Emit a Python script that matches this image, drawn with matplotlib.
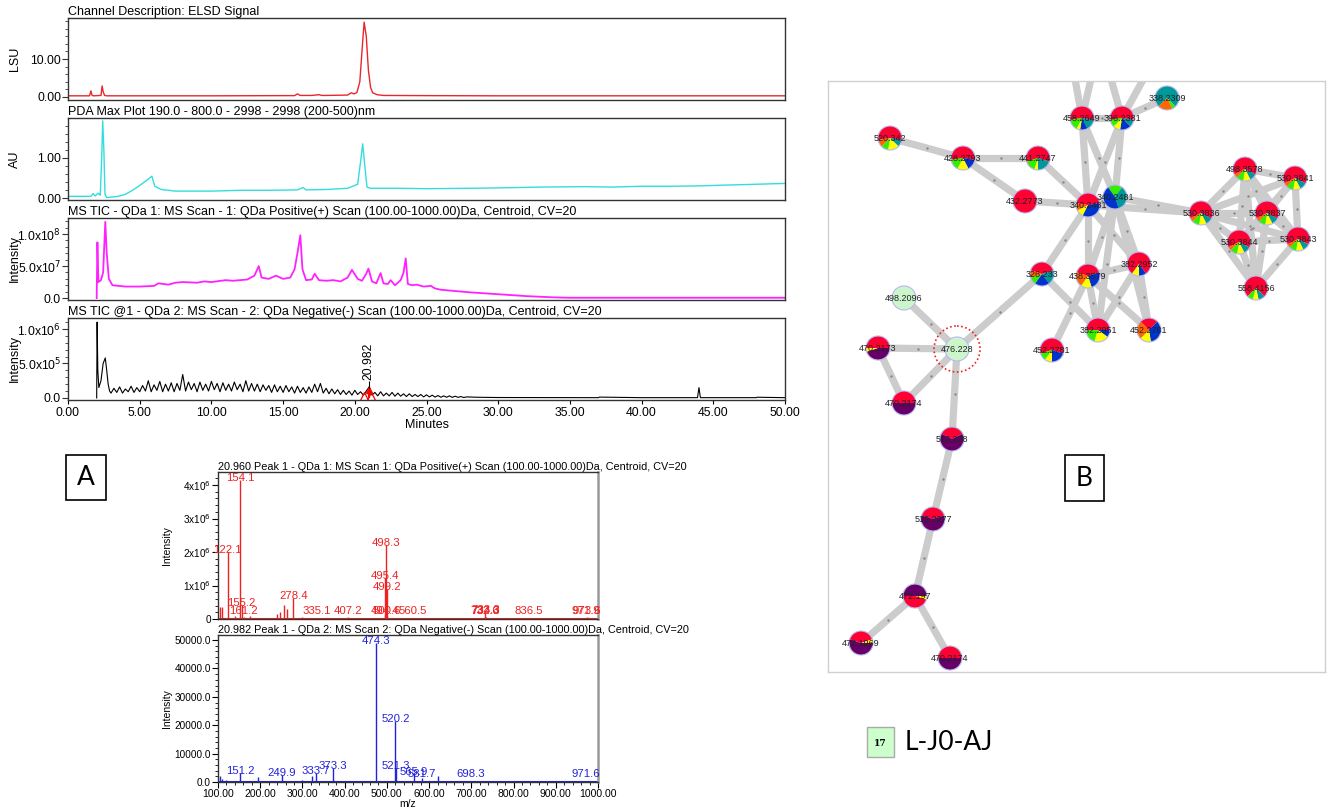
import numpy as np
import matplotlib.pyplot as plt
from matplotlib.patches import Wedge, Circle, Rectangle
from matplotlib.ticker import MultipleLocator

plt.rcParams['font.family'] = ['Liberation Sans', 'DejaVu Sans']

W, H = 1331, 807

# ---------------- chromatogram traces (time in minutes) ----------------
elsd_time = [0, 1.5, 1.6, 1.68, 1.8, 2.3, 2.38, 2.45, 2.55, 2.7, 5, 10, 15, 15.8, 16.0,
             16.2, 17, 17.5, 17.7, 18, 19.5, 19.75, 19.95, 20.15, 20.35, 20.5, 20.65, 20.8,
             20.95, 21.1, 21.25, 21.55, 22, 25, 30, 35, 40, 45, 50]
elsd_lsu = [0.3, 0.3, 1.6, 0.4, 0.3, 0.4, 2.9, 1.4, 0.4, 0.3, 0.3, 0.3, 0.35, 0.35, 0.8,
            0.4, 0.4, 0.6, 0.4, 0.4, 0.5, 1.1, 0.8, 1.2, 4.0, 12.0, 19.7, 16.0,
            7.0, 2.5, 1.1, 0.6, 0.4, 0.35, 0.3, 0.3, 0.3, 0.3, 0.3]

pda_time = [0, 1.6, 1.75, 1.9, 2.1, 2.25, 2.35, 2.42, 2.5, 2.58, 2.7, 3.0, 3.5, 4.0, 4.5,
            5.0, 5.5, 5.85, 6.05, 6.5, 7.5, 10, 12, 14, 16, 16.4, 16.6, 18, 19.5, 20.2,
            20.4, 20.55, 20.7, 20.85, 21.1, 23, 25, 28, 30, 33, 36, 38, 40, 42, 44, 46, 50]
pda_au = [0.05, 0.05, 0.12, 0.06, 0.13, 0.08, 1.0, 1.92, 1.2, 0.1, 0.02, 0.03, 0.05, 0.1, 0.2,
          0.32, 0.45, 0.55, 0.3, 0.22, 0.18, 0.18, 0.2, 0.2, 0.21, 0.27, 0.21, 0.22, 0.25, 0.35,
          0.9, 1.35, 0.8, 0.28, 0.25, 0.25, 0.24, 0.25, 0.26, 0.28, 0.29, 0.28, 0.3, 0.3, 0.31, 0.33, 0.37]

pos_tic_time = [2.0, 2.05, 2.12, 2.3, 2.45, 2.6, 2.7, 2.85, 3.1, 4, 5, 6, 6.3, 7, 7.5, 8, 9,
                9.5, 10, 11, 11.5, 12, 12.5, 13, 13.3, 13.5, 14, 14.5, 15, 15.5, 15.8, 16.0,
                16.2, 16.35, 16.6, 17, 17.2, 17.5, 18, 18.5, 19, 19.5, 19.8, 20.2, 20.5, 20.8,
                20.95, 21.2, 21.5, 21.8, 22, 22.3, 22.5, 22.8, 23.2, 23.4, 23.55, 23.7, 24,
                24.3, 24.8, 25.3, 25.6, 26, 27, 28, 29, 30, 31, 32, 33, 34, 35, 40, 45, 50]
pos_tic_1e7 = [0.0, 8.7, 2.5, 2.8, 4.0, 11.9, 7.0, 3.0, 2.0, 1.8, 1.8, 1.9, 2.3, 2.1, 2.4, 2.5, 2.4,
               2.6, 2.5, 2.8, 2.7, 2.8, 2.9, 3.5, 5.0, 3.2, 3.0, 3.5, 3.0, 3.2, 4.5, 7.0,
               9.8, 4.5, 2.8, 2.9, 3.8, 2.8, 2.7, 2.8, 2.6, 3.2, 4.4, 3.0, 2.7, 3.8,
               4.6, 2.6, 2.3, 3.9, 2.3, 2.2, 2.8, 2.0, 2.8, 4.0, 6.2, 2.2, 2.0,
               2.1, 1.8, 1.9, 1.5, 1.3, 1.1, 0.9, 0.75, 0.6, 0.45, 0.3, 0.2, 0.1, 0.05, 0.05, 0.05, 0.05]

neg_early_time = [2.0, 2.03, 2.08, 2.15, 2.3, 2.45, 2.6, 2.7, 2.8, 2.9]
neg_early_1e5 = [0.0, 11.0, 4.0, 1.5, 2.5, 5.0, 5.8, 4.0, 2.0, 1.0]
neg_noise_start, neg_noise_step = 3.0, 0.2
neg_noise_1e5 = [0.7, 1.4, 0.8, 1.6, 0.7, 1.3, 0.9, 1.7, 0.8, 1.5,
                 0.9, 1.8, 1.0, 2.5, 0.9, 1.9, 1.1, 2.4, 0.9, 2.0,
                 1.0, 2.2, 0.9, 2.1, 1.1, 3.4, 1.0, 2.3, 1.2, 2.1,
                 0.9, 2.3, 1.1, 2.0, 1.0, 2.4, 1.2, 2.1, 0.9, 2.2,
                 1.1, 2.0, 1.0, 2.3, 1.2, 2.0, 0.9, 2.5, 1.0, 2.1,
                 1.0, 2.0, 0.9, 1.9, 1.1, 1.8, 0.8, 1.9, 0.9, 1.7,
                 0.8, 1.8, 0.9, 1.6, 0.7, 1.7, 0.8, 1.5, 0.7, 1.6,
                 0.8, 2.0, 0.9, 2.1, 0.7, 1.4, 0.6, 1.3, 0.6, 1.2,
                 0.5, 1.1, 0.5, 1.0, 0.4, 1.1, 0.5, 0.9, 0.4, 1.0,
                 1.6, 0.4, 0.8, 0.3, 0.9, 0.3, 0.7, 0.3, 0.8, 0.25,
                 0.7, 0.25, 0.6, 0.2, 0.6, 0.2, 0.5, 0.2, 0.5, 0.15,
                 0.45, 0.15, 0.4, 0.12, 0.35, 0.1, 0.3, 0.1, 0.3, 0.08,
                 0.25, 0.08, 0.2, 0.06, 0.15]
neg_tail_time = [28.5, 30, 32, 35, 37, 37.05, 40, 43.9, 44.0, 44.1, 48, 48.05, 50]
neg_tail_1e5 = [0.1, 0.06, 0.05, 0.04, 0.04, 0.12, 0.04, 0.04, 1.5, 0.04, 0.04, 0.1, 0.04]
marked_rt = 20.982

# ---------------- spectra at the marked peak ----------------
pos_mz = [105.0, 108.7, 123.0, 140.0, 152.0, 156.0, 161.2, 175.0, 240.0, 248.0, 256.0, 262.7,
          278.4, 300.0, 335.1, 407.2, 494.4, 495.4, 497.0, 498.3, 499.2, 500.6, 560.5,
          732.6, 733.3, 734.3, 836.5, 971.9, 973.6]
pos_int = [0.35e6, 0.36e6, 2.0e6, 0.1e6, 4.15e6, 0.42e6, 0.05e6, 0.08e6, 0.15e6, 0.2e6, 0.42e6,
           0.3e6, 0.62e6, 0.05e6, 0.03e6, 0.05e6, 0.12e6, 1.22e6, 0.5e6, 2.22e6, 0.9e6,
           0.08e6, 0.03e6, 0.04e6, 0.2e6, 0.05e6, 0.03e6, 0.03e6, 0.05e6]
pos_labels = {123.0: '122.1', 152.0: '154.1', 156.0: '155.2', 161.2: '161.2', 278.4: '278.4',
              335.1: '335.1', 407.2: '407.2', 494.4: '494.4', 495.4: '495.4', 498.3: '498.3',
              499.2: '499.2', 500.6: '500.6', 560.5: '560.5', 732.6: '732.6', 733.3: '733.3',
              734.3: '734.3', 836.5: '836.5', 971.9: '971.9', 973.6: '973.6'}

neg_mz = [105.0, 110.0, 120.0, 152.0, 195.0, 251.0, 300.0, 322.0, 332.0, 373.0, 474.3, 480.0,
          520.2, 521.3, 564.0, 582.0, 620.0, 698.3, 971.6]
neg_int = [2000, 1000, 800, 3200, 1700, 2500, 600, 2000, 3100, 4800, 49000, 500,
           21500, 5000, 2800, 1500, 2000, 400, 400]
neg_labels = {152.0: '151.2', 251.0: '249.9', 332.0: '333.7', 373.0: '373.3', 474.3: '474.3',
              520.2: '520.2', 521.3: '521.3', 564.0: '565.9', 582.0: '581.7', 698.3: '698.3',
              971.6: '971.6'}

# ---------------- molecular network ----------------
node_names = ['338.2309', '458.2649', '396.2381', '520.342', '428.2793', '441.2747', '432.2773',
              '340.2481', '340.2481', '530.3836', '498.3578', '530.3841', '530.3837', '530.3844',
              '530.3843', '558.4156', '326.233', '438.3579', '382.2952', '382.2951', '452.2781',
              '452.2781', '498.2096', '476.228', '470.2173', '470.2174', '512.228', '512.2277',
              '472.197', '472.1969', '470.2174']
node_pos = [(1167, 98), (1082, 118), (1122, 118), (890, 138), (963, 158), (1038, 158), (1025, 201),
            (1088, 205), (1115, 197), (1201, 213), (1245, 169), (1295, 178), (1267, 213), (1239, 242),
            (1298, 239), (1256, 288), (1042, 274), (1088, 276), (1139, 264), (1098, 330), (1149, 330),
            (1052, 350), (904, 298), (957, 349), (878, 348), (904, 403), (952, 439), (933, 519),
            (915, 596), (861, 643), (950, 658),
            (1068, 40), (1100, 40), (1165, 40)]  # last three lie outside the view
grp530 = [('r', 0.65), ('t', 0.1), ('y', 0.1), ('g', 0.1), ('o', 0.05)]
node_slices = [
    [('t', 0.75), ('g', 0.05), ('o', 0.2)],
    [('r', 0.55), ('t', 0.15), ('b', 0.1), ('y', 0.05), ('g', 0.15)],
    [('r', 0.55), ('t', 0.1), ('b', 0.15), ('y', 0.1), ('g', 0.1)],
    [('r', 0.55), ('t', 0.1), ('y', 0.15), ('g', 0.1), ('o', 0.1)],
    [('r', 0.55), ('b', 0.15), ('y', 0.15), ('g', 0.15)],
    [('r', 0.6), ('t', 0.2), ('y', 0.05), ('g', 0.15)],
    [('r', 1.0)],
    [('r', 0.45), ('b', 0.35), ('y', 0.1), ('o', 0.1)],
    [('g', 0.2), ('t', 0.35), ('b', 0.45)],
    grp530, grp530, grp530, grp530, grp530, grp530,
    [('r', 0.75), ('t', 0.09), ('y', 0.08), ('g', 0.08)],
    [('r', 0.4), ('t', 0.2), ('b', 0.2), ('g', 0.1), ('o', 0.1)],
    [('r', 0.4), ('b', 0.25), ('y', 0.15), ('o', 0.2)],
    [('r', 0.8), ('b', 0.1), ('y', 0.1)],
    [('r', 0.5), ('b', 0.1), ('y', 0.2), ('g', 0.2)],
    [('r', 0.25), ('b', 0.35), ('y', 0.15), ('o', 0.25)],
    [('r', 0.6), ('b', 0.2), ('y', 0.1), ('g', 0.1)],
    [('l', 1.0)],
    [('l', 1.0)],
    [('r', 0.5), ('p', 0.45), ('y', 0.05)],
    [('r', 0.5), ('p', 0.5)],
    [('r', 0.35), ('p', 0.65)],
    [('r', 0.4), ('p', 0.6)],
    [('p', 0.5), ('y', 0.05), ('r', 0.45)],
    [('r', 0.4), ('y', 0.05), ('p', 0.55)],
    [('r', 0.5), ('p', 0.5)],
]
edges = [(3, 4), (4, 5), (4, 6), (6, 7), (5, 7), (1, 2), (2, 0), (1, 7), (1, 8), (2, 7), (2, 8),
         (7, 8), (8, 9), (7, 9),
         (9, 10), (9, 11), (9, 12), (9, 13), (9, 14), (9, 15), (10, 11), (10, 12), (10, 13),
         (10, 14), (10, 15), (11, 12), (11, 14), (11, 13), (12, 14), (12, 13), (12, 15),
         (13, 14), (13, 15), (14, 15),
         (7, 16), (7, 17), (7, 18), (8, 17), (8, 18), (8, 19), (8, 20),
         (16, 23), (16, 19), (17, 18), (17, 19), (17, 20), (17, 21), (18, 19), (18, 20),
         (23, 22), (23, 24), (23, 25), (23, 26), (24, 25), (26, 27), (27, 28), (28, 29), (28, 30),
         (1, 31), (1, 32), (2, 32), (2, 33)]
query_node = 23

pie_colors = {'r': '#ff0033', 'g': '#33ee00', 'y': '#ffff00', 'b': '#0033cc', 't': '#009999',
              'o': '#ff6600', 'p': '#660066', 'l': '#ccf5cc'}

fig = plt.figure(figsize=(W / 100, H / 100), dpi=100)


def px_axes(left, top, right, bottom):
    return fig.add_axes([left / W, 1 - bottom / H, (right - left) / W, (bottom - top) / H])


def style_frame(ax, color='#333333'):
    for s in ax.spines.values():
        s.set_color(color)
        s.set_linewidth(1.0)


def chrom_panel(top, bottom, t, y, color, title, ylabel, ylim, ticks, ticklabels, minor, lw=1.0):
    ax = px_axes(68, top, 785, bottom)
    ax.plot(t, y, color=color, lw=lw)
    ax.set_xlim(0, 50)
    ax.set_ylim(*ylim)
    ax.set_yticks(ticks)
    ax.set_yticklabels(ticklabels)
    ax.yaxis.set_minor_locator(MultipleLocator(minor))
    ax.tick_params(axis='y', which='major', length=4, labelsize=8.8, pad=1, color='#333333')
    ax.tick_params(axis='y', which='minor', length=2, color='#333333')
    ax.tick_params(axis='x', which='both', bottom=False, labelbottom=False)
    ax.text(0, 1.0, title, transform=ax.transAxes, fontsize=9, va='bottom', ha='left')
    ax.set_ylabel(ylabel, fontsize=9)
    ax.yaxis.set_label_coords(-0.066, 0.5)
    style_frame(ax)
    return ax


chrom_panel(18, 100, elsd_time, elsd_lsu, '#e8262b', 'Channel Description: ELSD Signal', 'LSU',
            (-0.8, 20.8), [0, 10], ['0.00', '10.00'], 2)
chrom_panel(118, 200, pda_time, pda_au, '#33dddd', 'PDA Max Plot 190.0 - 800.0 - 2998 - 2998 (200-500)nm',
            'AU', (-0.04, 1.99), [0, 1], ['0.00', '1.00'], 0.2)
chrom_panel(218, 300, pos_tic_time, np.array(pos_tic_1e7) * 1e7, '#ff22ff',
            'MS TIC - QDa 1: MS Scan - 1: QDa Positive(+) Scan (100.00-1000.00)Da, Centroid, CV=20',
            'Intensity', (-3e6, 1.25e8), [0, 5e7, 1e8], ['0.0', r'5.0x10$^7$', r'1.0x10$^8$'], 1e7, lw=1.3)

neg_time = np.concatenate([neg_early_time,
                           neg_noise_start + neg_noise_step * np.arange(len(neg_noise_1e5)),
                           neg_tail_time])
neg_vals = np.concatenate([neg_early_1e5, neg_noise_1e5, neg_tail_1e5]) * 1e5
ax4 = chrom_panel(318, 400, neg_time, neg_vals, 'black',
                  'MS TIC @1 - QDa 2: MS Scan - 2: QDa Negative(-) Scan (100.00-1000.00)Da, Centroid, CV=20',
                  'Intensity', (-3e4, 1.16e6), [0, 5e5, 1e6], ['0.0', r'5.0x10$^5$', r'1.0x10$^6$'], 1e5, lw=0.8)
ax4.tick_params(axis='x', which='major', bottom=True, labelbottom=True, length=3, labelsize=8.8, pad=2)
ax4.set_xticks(np.arange(0, 51, 5))
ax4.set_xticklabels(['%.2f' % v for v in np.arange(0, 51, 5)])
ax4.set_xlabel('Minutes', fontsize=9, labelpad=0)
ax4.vlines(marked_rt, 0, 1.5e5, color='red', lw=1.5)
ax4.plot([20.64, 21.13], [1.5e4, 1.5e4], ls='none', marker='^', mfc='none', mec='red', ms=7, mew=0.9)
ax4.plot([marked_rt], [1.2e5], ls='none', marker='^', color='red', ms=5)
ax4.vlines(marked_rt, 1.5e5, 2.5e5, color='black', lw=0.8)
ax4.text(marked_rt, 2.6e5, '%.3f' % marked_rt, rotation=90, ha='center', va='bottom', fontsize=8.8)


def spectrum_panel(top, bottom, mz, inten, labels, color, title, ylim, ticks, ticklabels, minor, show_x):
    ax = px_axes(218, top, 598, bottom)
    ax.vlines(mz, 0, inten, color=color, lw=1.0)
    ax.axhline(0, color=color, lw=1.5)
    px_per_unit = (bottom - top) / (ylim[1] - ylim[0])
    for m, i in zip(mz, inten):
        if m in labels:
            # label centred just above the peak tip, never closer than 8 px to the baseline
            lift_px = max(2.0, 8.0 - i * px_per_unit)
            ax.annotate(labels[m], (m, i), xytext=(0, lift_px * 0.72), textcoords='offset points',
                        ha='center', va='center', fontsize=8.2, color=color)
    ax.set_xlim(100, 1000)
    ax.set_ylim(*ylim)
    ax.set_yticks(ticks)
    ax.set_yticklabels(ticklabels)
    ax.yaxis.set_minor_locator(MultipleLocator(minor))
    ax.tick_params(axis='y', which='major', length=4, labelsize=7.2, pad=1)
    ax.tick_params(axis='y', which='minor', length=2)
    ax.text(0, 1.0, title, transform=ax.transAxes, fontsize=7.8, va='bottom', ha='left')
    ax.set_ylabel('Intensity', fontsize=7.5)
    ax.yaxis.set_label_coords(-0.12, 0.5)
    style_frame(ax)
    ax.spines['right'].set_color('#999999')
    ax.spines['right'].set_linewidth(1.8)
    if show_x:
        ax.set_xticks(np.arange(100, 1001, 100))
        ax.set_xticklabels(['%.2f' % v for v in np.arange(100, 1001, 100)])
        ax.xaxis.set_minor_locator(MultipleLocator(20))
        ax.tick_params(axis='x', which='major', length=4, labelsize=7.5, pad=1)
        ax.tick_params(axis='x', which='minor', length=2)
        ax.set_xlabel('m/z', fontsize=7.5, labelpad=0)
    else:
        ax.tick_params(axis='x', which='both', bottom=False, labelbottom=False)
    return ax


spectrum_panel(472, 619, pos_mz, pos_int, pos_labels, '#ee2222',
               '20.960 Peak 1 - QDa 1: MS Scan 1: QDa Positive(+) Scan (100.00-1000.00)Da, Centroid, CV=20',
               (0, 4.39e6), [0, 1e6, 2e6, 3e6, 4e6],
               ['0', r'1x10$^6$', r'2x10$^6$', r'3x10$^6$', r'4x10$^6$'], 2e5, False)
spectrum_panel(635, 782, neg_mz, neg_int, neg_labels, '#2222dd',
               '20.982 Peak 1 - QDa 2: MS Scan 2: QDa Negative(-) Scan (100.00-1000.00)Da, Centroid, CV=20',
               (0, 51800), [0, 10000, 20000, 30000, 40000, 50000],
               ['%.1f' % v for v in [0, 10000, 20000, 30000, 40000, 50000]], 2000, True)

# ---------------- network panel ----------------
axn = px_axes(828, 81, 1325, 672)
axn.set_xlim(828, 1325)
axn.set_ylim(672, 81)
axn.set_xticks([])
axn.set_yticks([])
for s in axn.spines.values():
    s.set_color('#d0d0d0')
    s.set_linewidth(1.0)

for a, b in edges:
    (x1, y1), (x2, y2) = node_pos[a], node_pos[b]
    axn.plot([x1, x2], [y1, y2], color='#cccccc', lw=5.2, solid_capstyle='butt', zorder=1)
    axn.plot([(x1 + x2) / 2], [(y1 + y2) / 2], marker='.', ms=1.5, color='#888888', zorder=2)

r = 12
for name, (x, y), slices in zip(node_names, node_pos, node_slices):
    # y axis is inverted, so 270 deg points up and increasing angles run clockwise on screen
    start = 270 - 180 * slices[0][1]
    for key, frac in slices:
        axn.add_patch(Wedge((x, y), r, start, start + 360 * frac, facecolor=pie_colors[key],
                            edgecolor='none', zorder=3))
        start += 360 * frac
    axn.add_patch(Circle((x, y), r, facecolor='none', edgecolor='#b8b8f0', lw=0.8, zorder=4))
    axn.text(x, y, name, ha='center', va='center', fontsize=6.5, color='#222222', zorder=5)

qx, qy = node_pos[query_node]
axn.add_patch(Circle((qx, qy), 23, facecolor='none', edgecolor='#ee2222', lw=1.2, ls=(0, (1, 1.5)), zorder=6))


# ---------------- panel letters and legend ----------------
def fig_box(x0, y0, x1, y1, **kw):
    fig.add_artist(Rectangle((x0 / W, 1 - y1 / H), (x1 - x0) / W, (y1 - y0) / H,
                             transform=fig.transFigure, **kw))


fig_box(66, 455, 106, 500, facecolor='white', edgecolor='black', lw=1.2)
fig.text(86 / W, 1 - 478 / H, 'A', ha='center', va='center', fontsize=19, family=['Lato', 'DejaVu Sans'])
fig_box(1065, 455, 1104, 501, facecolor='white', edgecolor='black', lw=1.2)
fig.text(1084.5 / W, 1 - 479 / H, 'B', ha='center', va='center', fontsize=19, family=['Lato', 'DejaVu Sans'])

fig_box(867, 727, 894, 757, facecolor='#ccffcc', edgecolor='#aaaaaa', lw=1.0)
fig.text(880.5 / W, 1 - 743 / H, '17', ha='center', va='center', fontsize=6.5, fontweight='bold',
         family=['DejaVu Serif'])
fig.text(905 / W, 1 - 743 / H, 'L-J0-AJ', ha='left', va='center', fontsize=19, family=['Lato', 'DejaVu Sans'])

fig.savefig('out.png', dpi=100)
